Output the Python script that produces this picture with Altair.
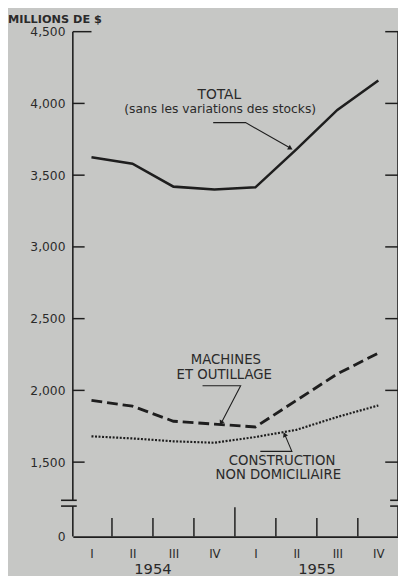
import json
import altair as alt
import pandas as pd

# ---- data ----
quarters = ["I", "II", "III", "IV", "I", "II", "III", "IV"]
years = ["1954", "1955"]
total = [3625, 3580, 3420, 3400, 3415, 3680, 3955, 4160]
machines = [1930, 1890, 1785, 1765, 1745, 1930, 2115, 2260]
construction = [1680, 1665, 1645, 1635, 1675, 1725, 1815, 1895]
y_ticks = [0, 1500, 2000, 2500, 3000, 3500, 4000, 4500]

W, H = 331, 514
TOP, LEFT, SVG_H = 19, 66, 568
INK = "#1e1e1e"
TXT = "#2a2a2a"
BG = "#c6c7c5"
FONT = "DejaVu Sans"

yscale = alt.Scale(domain=[0, 1200, 4500], range=[H, H - 32, 0], zero=False, nice=False)
xscale = alt.Scale(domain=[-0.455, 7.48], zero=False, nice=False)

df = pd.DataFrame({
    "i": list(range(len(quarters))),
    "q": quarters,
    "total": total,
    "machines": machines,
    "construction": construction,
})

label_expr = json.dumps(quarters) + "[datum.value]"

xaxis = alt.Axis(values=list(range(len(quarters))), labelExpr=label_expr, title=None,
                 ticks=False, grid=False, domain=True, domainColor=INK, domainWidth=1.6,
                 labelPadding=12, labelFontSize=12, labelColor=TXT, labelFont=FONT)
yaxis = alt.Axis(values=y_ticks, format=",d", title=None, ticks=False, grid=False,
                 domain=False, labelPadding=8, labelFontSize=12.5, labelColor=TXT,
                 labelFont=FONT)


def XQ(field):
    return alt.X(field, scale=xscale, axis=xaxis)


def YQ(field):
    return alt.Y(field, scale=yscale, axis=yaxis)


base = alt.Chart(df)

total_line = base.mark_line(color=INK, strokeWidth=2.6).encode(x=XQ("i:Q"), y=YQ("total:Q"))
mach_line = base.mark_line(color=INK, strokeWidth=2.9, strokeDash=[11, 5]).encode(
    x=XQ("i:Q"), y=YQ("machines:Q"))
cons_line = base.mark_line(color=INK, strokeWidth=2.2, strokeDash=[2, 1.6]).encode(
    x=XQ("i:Q"), y=YQ("construction:Q"))

# ---- axes frame ----
ticks_df = pd.DataFrame({"v": y_ticks[1:]})
left_ticks = alt.Chart(ticks_df).transform_filter("datum.v < 4500").mark_rule(
    color=INK, strokeWidth=1.5).encode(y=YQ("v:Q"), x=alt.value(0), x2=alt.value(12))
left_top = alt.Chart(ticks_df).transform_filter("datum.v == 4500").mark_rule(
    color=INK, strokeWidth=1.5).encode(y=YQ("v:Q"), x=alt.value(0), x2=alt.value(19))
right_ticks = alt.Chart(ticks_df).mark_rule(color=INK, strokeWidth=1.5).encode(
    y=YQ("v:Q"), x=alt.value(W - 13), x2=alt.value(W))

seg_df = pd.DataFrame({"a": [4500, 1165], "b": [1234, 0]})
left_line = alt.Chart(seg_df).mark_rule(color=INK, strokeWidth=1.6).encode(
    y=YQ("a:Q"), y2="b:Q", x=alt.value(0))
right_line = alt.Chart(seg_df).mark_rule(color=INK, strokeWidth=1.6).encode(
    y=YQ("a:Q"), y2="b:Q", x=alt.value(W))

brk_df = pd.DataFrame({"v": [1234, 1165]})
left_brk = alt.Chart(brk_df).mark_rule(color=INK, strokeWidth=1.6).encode(
    y=YQ("v:Q"), x=alt.value(-12), x2=alt.value(4))
right_brk = alt.Chart(brk_df).mark_rule(color=INK, strokeWidth=1.6).encode(
    y=YQ("v:Q"), x=alt.value(W - 8), x2=alt.value(W + 1))

qb_df = pd.DataFrame({"b": [0.5, 1.5, 2.5, 4.5, 5.5, 6.5]})
q_ticks = alt.Chart(qb_df).mark_rule(color=INK, strokeWidth=1.5).encode(
    x=XQ("b:Q"), y=alt.value(H), y2=alt.value(H - 19))
yb_df = pd.DataFrame({"b": [3.5]})
y_tick = alt.Chart(yb_df).mark_rule(color=INK, strokeWidth=1.5).encode(
    x=XQ("b:Q"), y=alt.value(H), y2=alt.value(H - 30))

year_df = pd.DataFrame({"t": years, "i": [1.5, 5.5]})
year_txt = alt.Chart(year_df).mark_text(font=FONT, fontSize=15, color=TXT,
                                        baseline="middle", align="center").encode(
    x=XQ("i:Q"), y=alt.value(H + 33), text="t:N")

unit_txt = alt.Chart(pd.DataFrame({"t": ["MILLIONS   DE   $"]})).mark_text(
    font=FONT, fontSize=11.5, fontWeight="bold", color=TXT, align="left",
    baseline="middle").encode(x=alt.value(-LEFT), y=alt.value(-12), text="t:N")

# ---- annotations ----
ann_df = pd.DataFrame({
    "t": ["TOTAL", "(sans les variations des stocks)", "MACHINES", "ET OUTILLAGE",
          "CONSTRUCTION", "NON DOMICILIAIRE"],
    "i": [3.12, 3.14, 3.28, 3.24, 4.65, 4.56],
    "v": [4057, 3961, 2209, 2107, 1507, 1411],
    "s": [14, 12.5, 13.5, 13.5, 13.5, 13.5],
})
ann = alt.Chart(ann_df).mark_text(font=FONT, color=TXT, align="center",
                                  baseline="middle").encode(
    x=XQ("i:Q"), y=YQ("v:Q"),
    text="t:N", size=alt.Size("s:Q", scale=None, legend=None))

lead_df = pd.DataFrame({
    "g": ["t", "t", "t", "m", "m", "m", "c", "c", "c"],
    "o": [0, 1, 2, 0, 1, 2, 0, 1, 2],
    "i": [2.97, 3.76, 4.85, 2.71, 3.64, 3.17, 4.12, 4.89, 4.72],
    "v": [3866, 3866, 3689, 2032, 2032, 1775, 1575, 1575, 1690],
})
leaders = alt.Chart(lead_df).mark_line(color=INK, strokeWidth=1.1).encode(
    x=XQ("i:Q"), y=YQ("v:Q"), detail="g:N", order="o:Q")

arr_df = pd.DataFrame({
    "i": [4.84, 3.17, 4.72],
    "v": [3690, 1778, 1688],
    "a": [120, 208, 336],
})
arrows = alt.Chart(arr_df).mark_point(shape="triangle", filled=True, color=INK,
                                      size=30, opacity=1).encode(
    x=XQ("i:Q"), y=YQ("v:Q"), angle=alt.Angle("a:Q", scale=None))

chart = alt.layer(
    total_line, mach_line, cons_line,
    left_ticks, left_top, right_ticks, left_line, right_line, left_brk, right_brk,
    q_ticks, y_tick, year_txt, unit_txt, ann, leaders, arrows,
).properties(
    width=W, height=H,
    autosize=alt.AutoSizeParams(type="none"),
    padding={"left": LEFT, "top": TOP, "right": 0, "bottom": SVG_H - TOP - H},
    background=BG,
).configure_view(stroke=None)

chart.save("out.html", embed_options={"renderer": "svg", "actions": False})
